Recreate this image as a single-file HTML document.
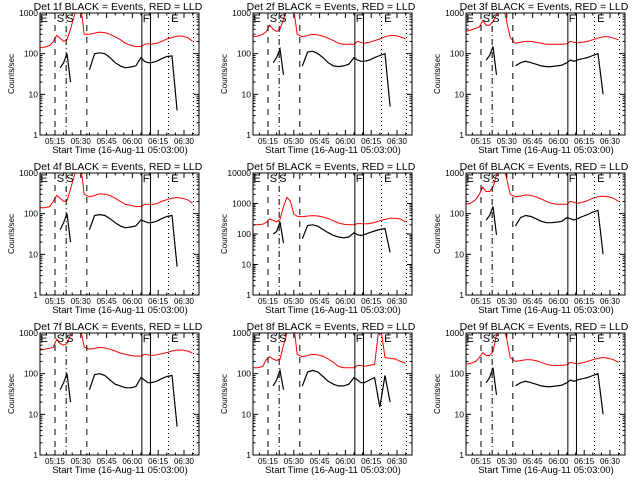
<!DOCTYPE html>
<html><head><meta charset="utf-8"><style>
body{margin:0;background:#fff;}
svg{display:block;font-family:"Liberation Sans",sans-serif;}
</style></head><body>
<svg id="c" width="640" height="480"></svg>
<script>
const times=[6,9,12,14,16,18,20,22,24,26,28,30,32,35,38,41,44,47,50,53,56,59,62,65,67,69,71,74,77,80,83,86,89,92,95];
const xTickLabels=["05:15","05:30","05:45","06:00","06:15","06:30"];
const xTickTimes=[15,30,45,60,75,90];
const panelTitles=["Det 1f","Det 2f","Det 3f","Det 4f","Det 5f","Det 6f","Det 7f","Det 8f","Det 9f"];
const panelYMax=[1000,1000,1000,1000,10000,1000,1000,1000,1000];
const red1=[140,145,160,200,280,240,200,220,400,800,1500,1500,300,300,320,340,330,300,260,220,180,160,150,150,170,175,170,180,200,230,250,270,270,250,200];
const red2=[260,270,300,350,500,400,350,400,700,1500,2000,1200,300,260,280,300,290,270,240,210,180,170,170,170,200,190,180,190,210,230,260,280,280,260,230];
const red3=[350,380,420,450,650,500,500,600,900,1500,1500,600,250,180,190,200,200,190,180,170,170,170,170,175,200,190,185,190,200,220,240,260,260,240,220];
const red4=[140,140,150,200,280,240,200,210,400,800,1500,1500,300,260,280,310,300,280,240,200,170,160,150,150,170,170,165,175,200,220,240,250,240,220,180];
const red5=[200,200,210,240,310,280,250,300,800,1600,1200,450,380,370,390,400,390,360,320,270,230,210,200,200,220,220,215,220,240,270,300,330,330,310,250];
const red6=[170,180,220,300,450,350,350,450,900,1500,1500,700,300,260,270,290,280,260,230,200,180,170,170,170,200,190,180,190,210,240,260,270,260,240,200];
const red7=[380,400,420,450,700,550,500,550,900,1500,1500,1200,450,400,420,440,430,400,360,320,300,280,270,270,300,290,280,290,310,330,360,380,380,360,320];
const red8=[140,140,150,220,260,230,210,230,500,1000,1500,1500,300,260,280,300,290,270,230,190,150,140,140,140,160,160,150,160,170,2000,250,240,230,200,180];
const red9=[170,180,200,250,330,280,280,350,900,1500,1500,700,250,200,210,220,220,210,190,170,160,160,160,165,190,180,175,185,200,220,240,250,240,220,190];
const black1=[null,null,null,null,null,45,60,100,20,null,null,null,null,40,100,105,100,80,60,50,45,47,50,80,65,60,60,65,75,85,88,4,null,null,null];
const black2=[null,null,null,null,null,60,80,130,30,null,null,null,null,50,110,115,100,80,60,50,48,50,55,80,70,65,65,70,80,90,100,5,null,null,null];
const black3=[null,null,null,null,null,70,90,150,30,null,null,null,null,50,60,65,60,55,50,48,48,50,52,60,70,65,70,75,80,90,100,10,null,null,null];
const black4=[null,null,null,null,null,40,60,100,20,null,null,null,null,40,90,95,90,75,60,50,45,47,50,70,65,60,60,65,75,85,90,5,null,null,null];
const black5=[null,null,null,null,null,100,120,250,50,null,null,null,null,70,190,200,180,140,110,90,80,75,80,110,95,90,95,110,125,140,150,25,null,null,null];
const black6=[null,null,null,null,null,70,90,150,30,null,null,null,null,50,80,90,85,75,65,60,60,62,65,80,75,70,75,85,95,110,120,10,null,null,null];
const black7=[null,null,null,null,null,40,60,100,20,null,null,null,null,40,95,100,90,70,55,50,45,45,48,80,70,60,60,65,75,85,90,5,null,null,null];
const black8=[null,null,null,null,null,50,70,120,40,null,null,null,null,50,110,120,110,85,65,55,50,50,55,80,70,60,60,70,80,15,90,20,null,null,null];
const black9=[null,null,null,null,null,60,80,140,30,null,null,null,null,50,60,65,60,55,50,48,48,50,52,60,70,65,70,75,80,90,100,10,null,null,null];
const reds=[red1,red2,red3,red4,red5,red6,red7,red8,red9];
const blacks=[black1,black2,black3,black4,black5,black6,black7,black8,black9];
const vlineTimes=[15,21.5,33.5,65.5,70.5,81,95.5];
const vlineDash=["6,6","6,3,1,3","6,6",null,null,"1,3","1,3"];
const markerLabels=["E","S","S","F","E"];
const markerTimes=[6.5,16,21.5,66,82.5];

const NS="http://www.w3.org/2000/svg";
const svg=document.getElementById('c');
function mk(tag,attrs,parent){const e=document.createElementNS(NS,tag);for(const k in attrs)e.setAttribute(k,attrs[k]);(parent||svg).appendChild(e);return e;}

for(let p=0;p<9;p++){
  const ox=(p%3)*213, oy=Math.floor(p/3)*160;
  const L=ox+40,R=ox+199,T=oy+13,B=oy+135;
  const ymax=panelYMax[p], dec=Math.log10(ymax);
  const xs=t=>ox+55+(t-15)*1.72;
  const ys=v=>B-(Math.log10(Math.max(v,1))/dec)*(B-T);
  const g=mk('g',{});
  
  
  const cp=mk('clipPath',{id:'cp'+p},g);mk('rect',{x:L,y:T,width:R-L,height:B-T},cp);
  const title=mk('text',{x:ox+118,y:oy+10,'font-size':10.5,'text-anchor':'middle'},g);
  title.textContent=panelTitles[p]+" BLACK = Events, RED = LLD";
  
  
  let pts=reds[p].map((v,i)=>xs(times[i]).toFixed(1)+','+ys(v).toFixed(1)).join(' ');
  const rl=mk('polyline',{points:pts,fill:'none',stroke:'#f00','stroke-width':1,'clip-path':'url(#cp'+p+')'},g);
  
  
  let seg=[];const bk=blacks[p];
  const flush=()=>{if(seg.length>1){const bl=mk('polyline',{points:seg.join(' '),fill:'none',stroke:'#000','stroke-width':1.2,'clip-path':'url(#cp'+p+')'},g);
    
    }seg=[];};
  bk.forEach((v,i)=>{if(v==null)flush();else seg.push(xs(times[i]).toFixed(1)+','+ys(v).toFixed(1));});flush();
  vlineTimes.forEach((t,i)=>{const a={x1:xs(t),x2:xs(t),y1:T,y2:B,stroke:'#000','stroke-width':1};if(vlineDash[i])a['stroke-dasharray']=vlineDash[i];
    const vl=mk('line',a,g);
    
    });
  markerLabels.forEach((s,i)=>{const tx=mk('text',{x:xs(markerTimes[i]),y:T+9,'font-size':11},g);tx.textContent=s;
    
    });
  const fr=mk('rect',{x:L,y:T,width:R-L,height:B-T,fill:'none',stroke:'#000','stroke-width':1},g);
  
  
  for(let d=0;d<=dec;d++){
    const y=ys(Math.pow(10,d));
    mk('line',{x1:L,x2:L+5,y1:y,y2:y,stroke:'#000'},g);mk('line',{x1:R-5,x2:R,y1:y,y2:y,stroke:'#000'},g);
    const tl=mk('text',{x:L-2,y:y+3,'font-size':8.5,'text-anchor':'end'},g);tl.textContent=String(Math.pow(10,d));
    
    
    if(d<dec)for(let m=2;m<10;m++){const yy=ys(m*Math.pow(10,d));mk('line',{x1:L,x2:L+2.5,y1:yy,y2:yy,stroke:'#000'},g);mk('line',{x1:R-2.5,x2:R,y1:yy,y2:yy,stroke:'#000'},g);}
  }
  for(let t=10;t<=95;t+=5){const x=xs(t);const major=(t%15===0);const h=major?5:2.5;
    mk('line',{x1:x,x2:x,y1:B,y2:B-h,stroke:'#000'},g);mk('line',{x1:x,x2:x,y1:T,y2:T+h,stroke:'#000'},g);}
  xTickTimes.forEach((t,i)=>{const tl=mk('text',{x:xs(t),y:B+9,'font-size':8,'text-anchor':'middle'},g);tl.textContent=xTickLabels[i];
    
    });
  const xt=mk('text',{x:ox+120,y:B+18,'font-size':9.5,'text-anchor':'middle'},g);xt.textContent="Start Time (16-Aug-11 05:03:00)";
  
  
  const yt=mk('text',{x:0,y:0,'font-size':8,'text-anchor':'middle',transform:`translate(${ox+14},${oy+74}) rotate(-90)`},g);yt.textContent="Counts/sec";
  
  
}
</script>
</body></html>
